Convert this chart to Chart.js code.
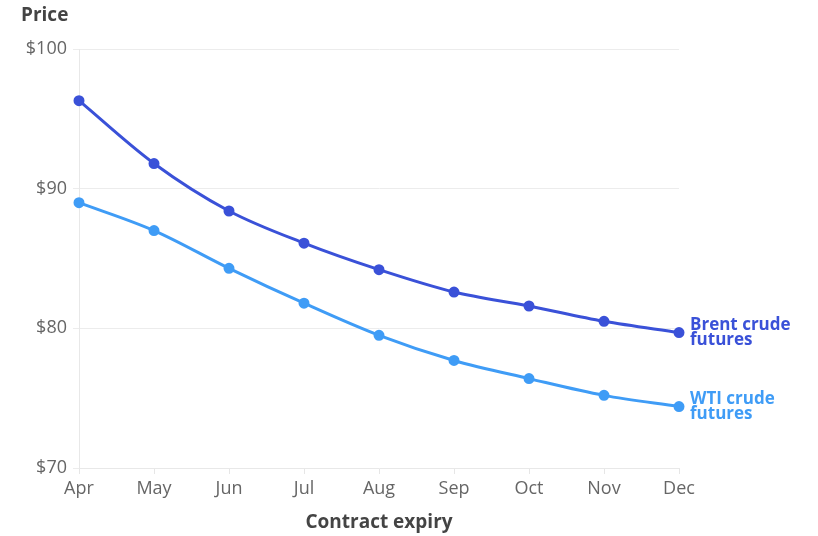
<!DOCTYPE html>
<html>
<head>
<meta charset="utf-8">
<script src="https://cdn.jsdelivr.net/npm/chart.js@4"></script>
<style>
  html, body { margin: 0; padding: 0; background: #fff; }
  #wrap { width: 818px; height: 536px; }
</style>
</head>
<body>
<div id="wrap"><canvas id="myChart"></canvas></div>
<script>
// contract months and futures prices ($/bbl)
const months = ['Apr', 'May', 'Jun', 'Jul', 'Aug', 'Sep', 'Oct', 'Nov', 'Dec'];
const brent = [96.3, 91.8, 88.4, 86.1, 84.2, 82.6, 81.6, 80.5, 79.7];
const wti = [89.0, 87.0, 84.3, 81.8, 79.5, 77.7, 76.4, 75.2, 74.4];
const yTicks = [70, 80, 90, 100];

const brentColor = '#3a51d8';
const wtiColor = '#3f9cf6';
const fontFamily = '"Open Sans", sans-serif';

// axis titles and end-of-line labels
const labelsPlugin = {
    id: 'labels',
    afterDraw(chart) {
        const ctx = chart.ctx;
        const area = chart.chartArea;
        ctx.save();
        ctx.fillStyle = '#444';
        ctx.font = 'bold 19px ' + fontFamily;
        ctx.textBaseline = 'middle';
        ctx.textAlign = 'left';
        ctx.fillText('Price', 21, 16);
        ctx.textAlign = 'center';
        ctx.fillText('Contract expiry', (area.left + area.right) / 2, 523);

        ctx.font = 'bold 17px ' + fontFamily;
        ctx.textAlign = 'left';
        chart.data.datasets.forEach((ds, i) => {
            const pts = chart.getDatasetMeta(i).data;
            const last = pts[pts.length - 1];
            ctx.fillStyle = ds.borderColor;
            ctx.fillText(ds.label + ' crude', last.x + 11, last.y - 7);
            ctx.fillText('futures', last.x + 11, last.y + 8);
        });
        ctx.restore();
    }
};

var ctx = document.getElementById('myChart').getContext('2d');
var myChart = new Chart(ctx, {
    type: 'line',
    data: {
        labels: months,
        datasets: [{
            label: 'Brent',
            data: brent,
            borderColor: brentColor,
            backgroundColor: brentColor,
            borderWidth: 3,
            pointRadius: 4,
            pointHoverRadius: 4,
            cubicInterpolationMode: 'monotone'
        }, {
            label: 'WTI',
            data: wti,
            borderColor: wtiColor,
            backgroundColor: wtiColor,
            borderWidth: 3,
            pointRadius: 4,
            pointHoverRadius: 4,
            cubicInterpolationMode: 'monotone'
        }]
    },
    options: {
        responsive: true,
        maintainAspectRatio: false,
        animation: false,
        layout: { padding: { top: 49, right: 139, bottom: 0, left: 0 } },
        plugins: {
            legend: { display: false },
            tooltip: { enabled: false }
        },
        scales: {
            x: {
                offset: false,
                grid: { drawOnChartArea: false, color: '#e6e6e6', tickLength: 6 },
                border: { color: '#e8e8e8' },
                ticks: {
                    color: '#666',
                    font: { family: fontFamily, size: 18 },
                    padding: 4,
                    maxRotation: 0
                },
                afterFit(scale) { scale.height = 68; }
            },
            y: {
                min: 70,
                max: 100,
                afterBuildTicks(scale) {
                    scale.ticks = yTicks.map(v => ({ value: v }));
                },
                grid: { color: '#ececec', tickLength: 6 },
                border: { color: '#e8e8e8' },
                ticks: {
                    color: '#666',
                    font: { family: fontFamily, size: 18 },
                    padding: 6,
                    callback: v => '$' + v
                },
                afterFit(scale) { scale.width = 79; }
            }
        }
    },
    plugins: [labelsPlugin]
});
</script>
</body>
</html>
